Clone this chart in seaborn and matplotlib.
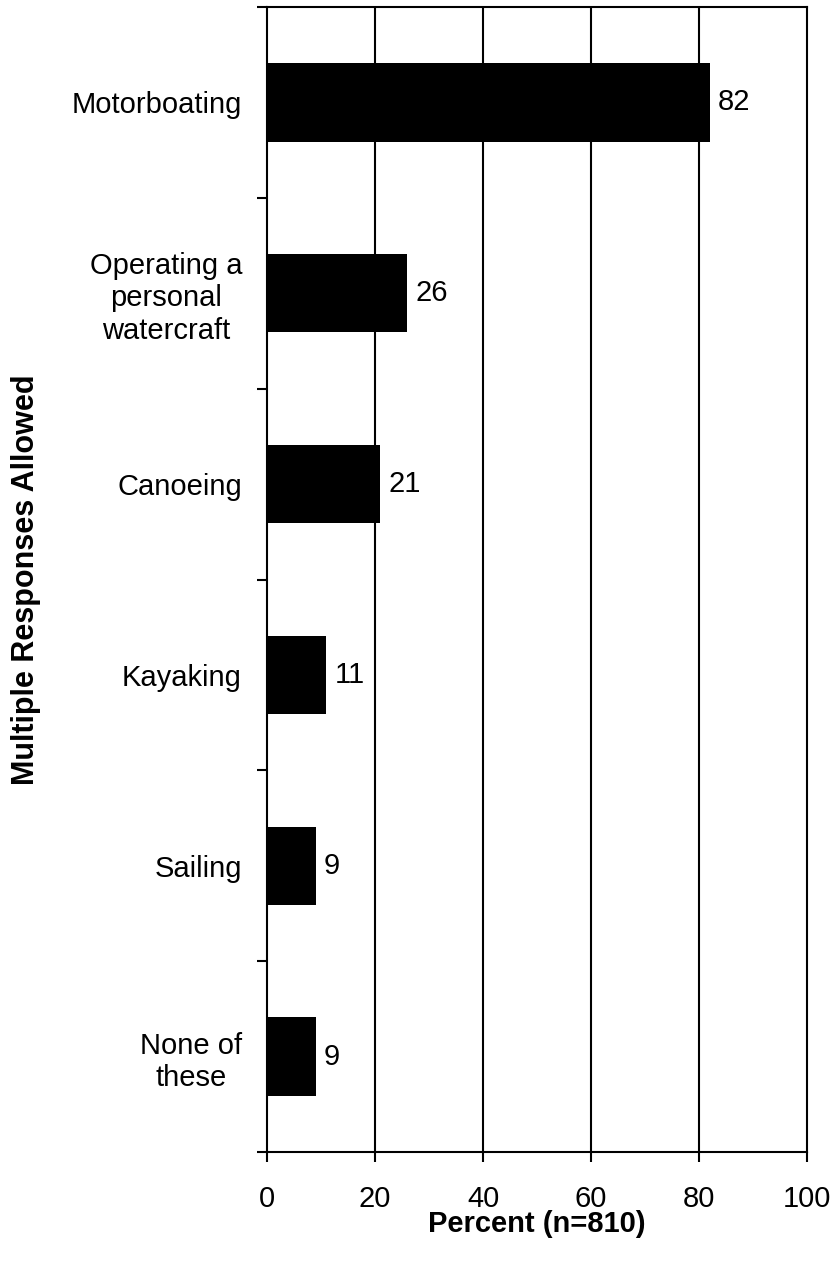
import matplotlib
matplotlib.use('Agg')
import matplotlib.pyplot as plt
import pandas as pd
import seaborn as sns

# datos
activities = ['Motorboating', 'Operating a\npersonal\nwatercraft', 'Canoeing',
              'Kayaking', 'Sailing', 'None of\nthese']
percent = [82, 26, 21, 11, 9, 9]
x_ticks = [0, 20, 40, 60, 80, 100]

df = pd.DataFrame({'activity': activities, 'percent': percent})

sns.set_style('white')
plt.rcParams['font.family'] = ['Liberation Sans', 'DejaVu Sans']
plt.rcParams['text.color'] = 'black'
plt.rcParams['axes.labelcolor'] = 'black'
plt.rcParams['xtick.color'] = 'black'
plt.rcParams['ytick.color'] = 'black'

fig = plt.figure(figsize=(8.33, 12.66), dpi=100)
ax = fig.add_axes([267 / 833, 1 - 1152 / 1266, 540 / 833, 1145 / 1266])

sns.barplot(data=df, y='activity', x='percent', orient='h', color='black',
            saturation=1, width=0.41, edgecolor='black', linewidth=0,
            ax=ax, zorder=3)

ax.set_xlim(0, 100)
ax.set_ylim(5.5, -0.5)
ax.set_xticks(x_ticks)
ax.set_xticklabels([str(t) for t in x_ticks], fontsize=21)

# ticks de categoría en los límites, etiquetas centradas
ax.set_yticks(range(len(activities)))
ax.set_yticklabels(activities, fontsize=21, ha='right', multialignment='center')
ax.set_yticks([i - 0.5 for i in range(len(activities) + 1)], minor=True)
ax.tick_params(axis='y', which='major', length=0, pad=18)
ax.tick_params(axis='y', which='minor', length=7.5, width=1.5, color='black',
               direction='out', left=True)
ax.tick_params(axis='x', which='major', length=7.5, width=1.5, color='black',
               direction='out', bottom=True, pad=16)

ax.grid(False)
for t in x_ticks[1:-1]:
    ax.axvline(t, color='black', lw=1.5, zorder=1)

for s in ax.spines.values():
    s.set_visible(True)
    s.set_color('black')
    s.set_linewidth(1.5)

ax.bar_label(ax.containers[0], labels=[str(v) for v in percent],
             padding=6, fontsize=21, color='black')

ax.set_xlabel('Percent (n=810)', fontsize=21, fontweight='bold')
ax.set_ylabel('Multiple Responses Allowed', fontsize=22, fontweight='bold')
ax.xaxis.set_label_coords(0.5, -0.051)
ax.yaxis.set_label_coords(-0.419, 0.5)

plt.savefig('out.png', dpi=100)
plt.close()
